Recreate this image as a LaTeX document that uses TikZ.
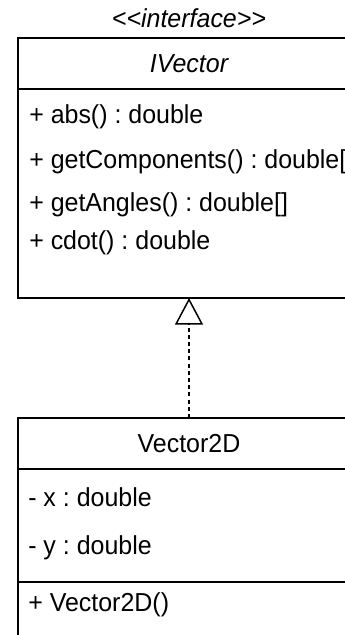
\documentclass[tikz,border=0pt]{standalone}
\usepackage{fontspec}
\setmainfont{Liberation Sans}[FakeStretch=0.96]
\usetikzlibrary{arrows.meta}
\newdimen\upx \upx=0.75pt
\frenchspacing
\begin{document}
\begin{tikzpicture}[x=0.75pt,y=-0.75pt,
  every node/.style={font=\fontsize{19.5}{23}\selectfont},
  compart/.style={draw=black, line width=1.2pt, rectangle, anchor=north west,
    minimum width=342\upx, inner sep=0pt, outer sep=0pt},
  member/.style={anchor=west, inner sep=0pt},
  realize/.style={line width=1.1pt, dash pattern=on 3pt off 2.4pt,
    -{Triangle[open, length=20pt, width=21pt, line width=1.1pt, fill=white]}}
]
\clip (0,0) rectangle (345,635);
\fill[white] (0,0) rectangle (345,635);

% interface IVector
\node (stereo) at (189,18) {\itshape <\kern0pt<interface>\kern0pt>};
\node[compart, minimum height=51\upx] (ivt) at (18,38) {\itshape IVector};
\node[compart, minimum height=209\upx] (ivm) at (18,89) {};
\node[member] (m1) at (29,117) {+ abs() : double};
\node[member] (m2) at (29,162) {+ getComponents() : double[]};
\node[member] (m3) at (29,205) {+ getAngles() : double[]};
\node[member] (m4) at (29,243) {+ cdot() : double};

% class Vector2D
\node[compart, minimum height=51\upx] (v2t) at (18,418) {Vector2D};
\node[compart, minimum height=113\upx] (v2a) at (18,469) {};
\node[compart, minimum height=80\upx] (v2o) at (18,582) {};
\node[member] (a1) at (28,497) {- x : double};
\node[member] (a2) at (28,548) {- y : double};
\node[member] (o1) at (28,605) {+ Vector2D()};

% realization
\draw[realize] (v2t.north) -- (ivm.south);
\end{tikzpicture}
\end{document}
